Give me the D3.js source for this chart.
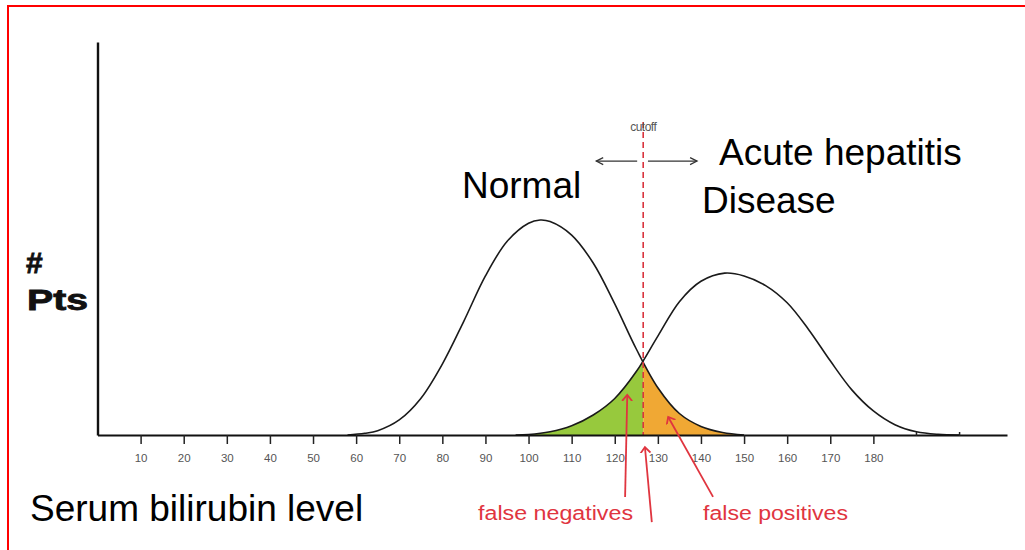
<!DOCTYPE html>
<html>
<head>
<meta charset="utf-8">
<script src="https://cdn.jsdelivr.net/npm/d3@7"></script>
<style>
  html, body { margin: 0; padding: 0; background: #fff; }
  svg { display: block; }
  text { font-family: "Liberation Sans", Arial, sans-serif; }
</style>
</head>
<body>
<svg id="chart" width="1025" height="550"></svg>
<script>
// ---- data ----
const tickValues = [10, 20, 30, 40, 50, 60, 70, 80, 90, 100, 110, 120, 130, 140, 150, 160, 170, 180];
const minorTicks = [190, 200];
const normalX = [58, 62, 65, 70, 75, 80, 85, 90, 95, 100, 102.7, 105, 110, 115, 120, 125, 130, 135, 140, 145, 150];
const normalY = [0, 0.8, 2, 7, 17, 33, 53, 74, 90, 98.5, 100, 99.3, 93, 80, 61, 40, 22, 10, 4, 1.2, 0];
const diseaseX = [97, 100, 105, 110, 115, 120, 125, 130, 135, 140, 145.5, 150, 155, 160, 165, 170, 175, 180, 185, 190, 195, 200];
const diseaseY = [0, 0.2, 1.5, 4.3, 9.3, 17, 29.5, 46, 62, 71.5, 75.3, 74, 69.5, 61.5, 49, 34.5, 21, 11.2, 4.8, 1.5, 0.3, 0];
const cutoff = 126.6;
const seriesLabels = ["Normal", "Acute hepatitis", "Disease"];
// annotation arrows [x0, y0, x1, y1] in data units (tail -> head)
const redArrows = [
  [122.4, -28.8, 122.9, 18.6],
  [128.6, -40.5, 127.0, -5.6],
  [142.8, -28.8, 132.4, 8.4]
];
const cutoffArrows = [
  [125.2, 127.4, 115.7, 127.4],
  [127.7, 127.4, 139.1, 127.4]
];

const normal = normalX.map((x, i) => ({ x, y: normalY[i] }));
const disease = diseaseX.map((x, i) => ({ x, y: diseaseY[i] }));

const svg = d3.select("#chart");
const x = d3.scaleLinear().domain([0, 211]).range([97.5, 1007]);
const y = d3.scaleLinear().domain([0, 182.8]).range([435, 42]);

// frame
svg.append("path")
  .attr("d", "M1025,6 H8 V550")
  .attr("fill", "none").attr("stroke", "#ff0000").attr("stroke-width", 2);

const defs = svg.append("defs");
defs.append("clipPath").attr("id", "clipL").append("rect")
  .attr("x", x(0)).attr("y", 0).attr("width", x(cutoff) - x(0)).attr("height", y(0));
defs.append("clipPath").attr("id", "clipR").append("rect")
  .attr("x", x(cutoff)).attr("y", 0).attr("width", x(211) - x(cutoff)).attr("height", y(0));
defs.append("marker").attr("id", "redHead").attr("viewBox", "-6 -6 12 12")
  .attr("refX", 0).attr("refY", 0).attr("markerWidth", 12).attr("markerHeight", 12)
  .attr("markerUnits", "userSpaceOnUse").attr("orient", "auto")
  .append("path").attr("d", "M-6,-5 L0,0 L-6,5").attr("fill", "none")
  .attr("stroke", "#e0353f").attr("stroke-width", 1.8);
defs.append("marker").attr("id", "blackHead").attr("viewBox", "-8 -6 10 12")
  .attr("refX", 0).attr("refY", 0).attr("markerWidth", 10).attr("markerHeight", 12)
  .attr("markerUnits", "userSpaceOnUse").attr("orient", "auto")
  .append("path").attr("d", "M-7,-3.5 L0,0 L-7,3.5").attr("fill", "none")
  .attr("stroke", "#333").attr("stroke-width", 1.2);

const area = d3.area().x(d => x(d.x)).y0(y(0)).y1(d => y(d.y)).curve(d3.curveCatmullRom.alpha(0.5));
const line = d3.line().x(d => x(d.x)).y(d => y(d.y)).curve(d3.curveCatmullRom.alpha(0.5));

svg.append("path").datum(disease).attr("d", area).attr("fill", "#97c93d").attr("clip-path", "url(#clipL)");
svg.append("path").datum(normal).attr("d", area).attr("fill", "#f0a834").attr("clip-path", "url(#clipR)");

svg.append("path").datum(normal).attr("d", line).attr("fill", "none").attr("stroke", "#1a1a1a").attr("stroke-width", 1.6);
svg.append("path").datum(disease).attr("d", line).attr("fill", "none").attr("stroke", "#1a1a1a").attr("stroke-width", 1.6);

// cutoff dashed line
svg.append("line")
  .attr("x1", x(cutoff)).attr("x2", x(cutoff)).attr("y1", y(145.6)).attr("y2", y(0))
  .attr("stroke", "#d9343e").attr("stroke-width", 1.6).attr("stroke-dasharray", "6,4");
svg.append("text").attr("x", x(cutoff)).attr("y", 131).attr("text-anchor", "middle")
  .attr("font-size", 12).attr("fill", "#555").attr("letter-spacing", -0.5).text("cutoff");

cutoffArrows.forEach(a => {
  svg.append("line").attr("x1", x(a[0])).attr("y1", y(a[1])).attr("x2", x(a[2])).attr("y2", y(a[3]))
    .attr("stroke", "#333").attr("stroke-width", 1.2).attr("marker-end", "url(#blackHead)");
});

// axes
const xAxis = svg.append("g").attr("transform", `translate(0,${y(0)})`)
  .call(d3.axisBottom(x).tickValues(tickValues).tickSize(9).tickSizeOuter(0));
xAxis.select(".domain").attr("stroke", "#111").attr("stroke-width", 2.2);
xAxis.selectAll(".tick line").attr("stroke", "#222").attr("stroke-width", 1.5);
xAxis.selectAll(".tick text").attr("y", 23).attr("dy", "0.32em")
  .attr("font-size", 11.5).attr("fill", "#555").attr("font-family", "Liberation Sans, Arial, sans-serif");
xAxis.selectAll(".minor").data(minorTicks).enter().append("line")
  .attr("x1", d => x(d)).attr("x2", d => x(d)).attr("y1", -3).attr("y2", 1)
  .attr("stroke", "#222").attr("stroke-width", 1.5);

const yAxis = svg.append("g").attr("transform", `translate(${x(0)},0)`)
  .call(d3.axisLeft(y).tickValues([]).tickSizeOuter(0));
yAxis.select(".domain").attr("stroke", "#111").attr("stroke-width", 2.4);

// red annotation arrows
redArrows.forEach(a => {
  svg.append("line").attr("x1", x(a[0])).attr("y1", y(a[1])).attr("x2", x(a[2])).attr("y2", y(a[3]))
    .attr("stroke", "#e0353f").attr("stroke-width", 1.8).attr("marker-end", "url(#redHead)");
});

// texts
svg.append("text").attr("x", 462).attr("y", 198).attr("font-size", 37).attr("fill", "#000").text(seriesLabels[0]);
svg.append("text").attr("x", 719).attr("y", 165).attr("font-size", 37).attr("fill", "#000").text(seriesLabels[1]);
svg.append("text").attr("x", 702).attr("y", 213).attr("font-size", 37).attr("fill", "#000").text(seriesLabels[2]);
svg.append("text").attr("x", 30).attr("y", 521).attr("font-size", 37).attr("fill", "#000").text("Serum bilirubin level");

svg.append("text").attr("x", 26).attr("y", 273).attr("font-size", 30).attr("font-weight", "bold")
  .attr("fill", "#111").attr("stroke", "#111").attr("stroke-width", 0.8).text("#");
svg.append("text").attr("x", 27).attr("y", 310).attr("font-size", 29).attr("font-weight", "bold")
  .attr("fill", "#111").attr("stroke", "#111").attr("stroke-width", 0.8)
  .attr("textLength", 61).attr("lengthAdjust", "spacingAndGlyphs").text("Pts");

svg.append("text").attr("x", 478).attr("y", 520).attr("font-size", 20).attr("fill", "#e0353f")
  .attr("textLength", 155).attr("lengthAdjust", "spacingAndGlyphs").text("false negatives");
svg.append("text").attr("x", 703).attr("y", 520).attr("font-size", 20).attr("fill", "#e0353f")
  .attr("textLength", 145).attr("lengthAdjust", "spacingAndGlyphs").text("false positives");
</script>
</body>
</html>
